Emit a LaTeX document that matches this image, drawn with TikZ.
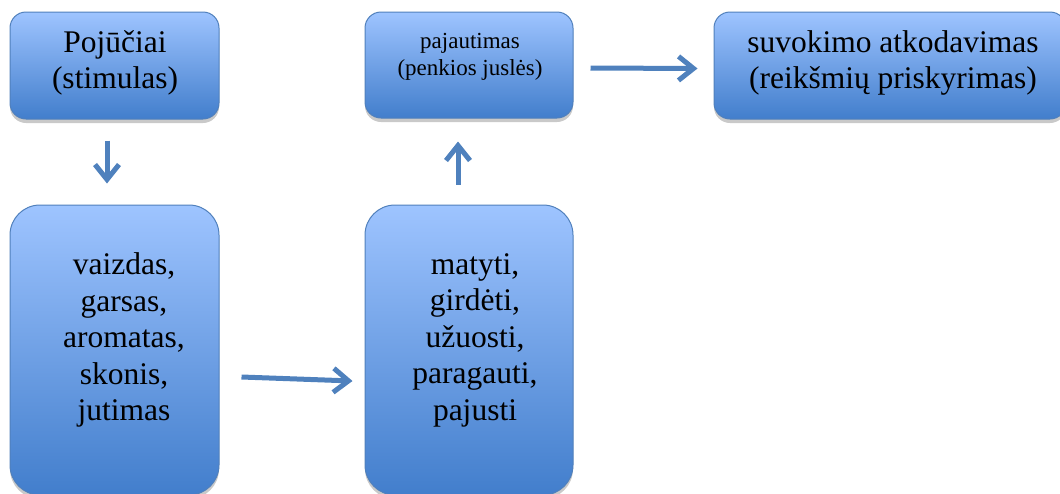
\documentclass[tikz,border=0pt]{standalone}
\usepackage{fontspec}
\setmainfont{Liberation Serif}
\newfontfamily\tnr{Liberation Serif}
\usetikzlibrary{arrows.meta,shadows,calc}
\definecolor{boxtop}{RGB}{158,196,255}
\definecolor{boxbot}{RGB}{66,126,204}
\definecolor{boxline}{RGB}{80,128,188}
\definecolor{arr}{RGB}{79,129,189}
\tikzset{
  box/.style={draw=boxline, line width=1pt, top color=boxtop, bottom color=boxbot,
    drop shadow={opacity=0.3, shadow xshift=0pt, shadow yshift=-4pt, fill=black!70},
    inner sep=0pt, rectangle},
  smallbox/.style={box, rounded corners=16pt},
  bigbox/.style={box, rounded corners=30pt},
  lbl/.style={font=\tnr\fontsize{31.5}{36.5}\selectfont, align=center, text=black, inner sep=0pt},
  slbl/.style={font=\tnr\fontsize{23}{27}\selectfont, align=center, text=black, inner sep=0pt},
  flow/.style={draw=arr, line width=5pt, -{Straight Barb[length=15pt,width=24pt]}},
}
\begin{document}
\begin{tikzpicture}[x=1pt,y=-1pt]
\useasboundingbox (0,0) rectangle (1060,493);
% boxes
\node[smallbox, minimum width=209pt, minimum height=107pt] (tl) at (114.5,65.5) {};
\node[smallbox, minimum width=208pt, minimum height=106pt] (tm) at (469,65) {};
\node[smallbox, minimum width=352pt, minimum height=107pt] (tr) at (890,65.5) {};
\node[bigbox, minimum width=209pt, minimum height=290pt] (bl) at (114.5,350) {};
\node[bigbox, minimum width=208pt, minimum height=290pt] (bm) at (469,350) {};
% labels
\node[lbl] (tlt) at (115,63) {Pojūčiai\\(stimulas)};
\node[slbl] (tmt) at (470,57) {pajautimas\\(penkios juslės)};
\node[lbl] (trt) at (893,63) {suvokimo atkodavimas\\(reikšmių priskyrimas)};
\node[lbl] (blt) at (124,340) {vaizdas,\\garsas,\\aromatas,\\skonis,\\jutimas};
\node[lbl] (bmt) at (475,340) {matyti,\\girdėti,\\užuosti,\\paragauti,\\pajusti};
% arrow end points
\coordinate (a1s) at ($(tl.south)+(-7.5,21)$);
\coordinate (a1e) at ($(bl.north)+(-7.5,-21)$);
\coordinate (a2s) at ($(bm.north)+(-11,-20)$);
\coordinate (a2e) at ($(tm.south)+(-11,23)$);
\coordinate (a3s) at ($(tm.east)+(17,3)$);
\coordinate (a3e) at ($(tr.west)+(-16,3)$);
\coordinate (a4s) at ($(bl.east)+(22,27)$);
\coordinate (a4e) at ($(bm.west)+(-12,31)$);
\draw[flow] (a1s) -- (a1e);
\draw[flow] (a2s) -- (a2e);
\draw[flow] (a3s) -- (a3e);
\draw[flow] (a4s) -- (a4e);
\end{tikzpicture}
\end{document}
